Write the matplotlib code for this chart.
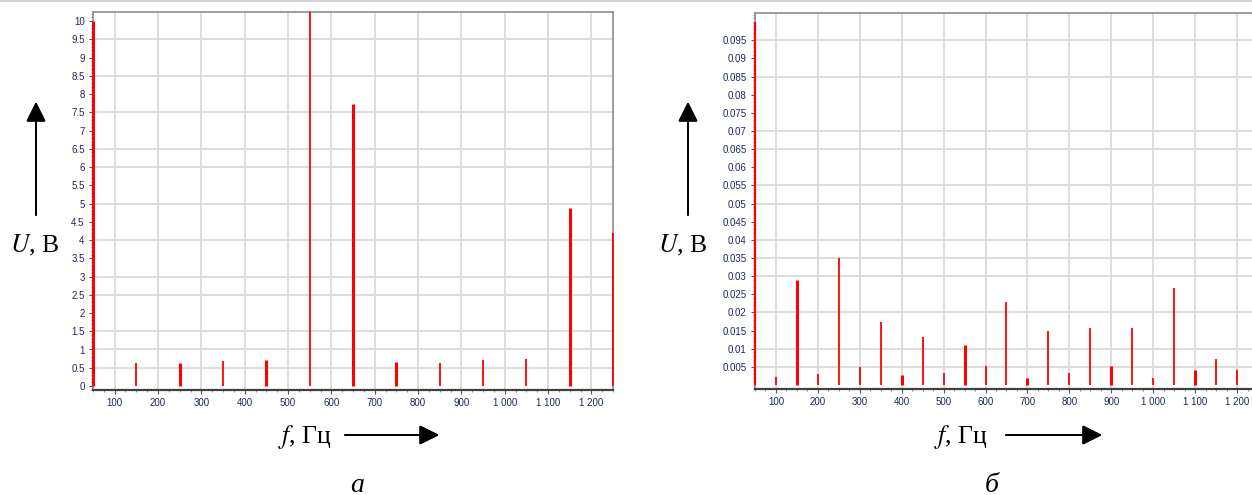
import matplotlib
matplotlib.use('Agg')
import matplotlib.pyplot as plt
import numpy as np
from matplotlib.lines import Line2D
from matplotlib.ticker import FuncFormatter, MultipleLocator, FixedLocator

plt.rcParams['mathtext.fontset'] = 'stix'

# spectrum a: amplitudes in volts
freq_a = [50, 150, 250, 350, 450, 550, 650, 750, 850, 950, 1050, 1150, 1250]
amp_a = [10.0, 0.64, 0.64, 0.68, 0.71, 10.25, 7.73, 0.65, 0.62, 0.71, 0.74, 4.89, 4.18]

# spectrum b
freq_b = [50, 100, 150, 200, 250, 300, 350, 400, 450, 500, 550, 600,
          650, 700, 750, 800, 850, 900, 950, 1000, 1050, 1100, 1150, 1200]
amp_b = [0.1, 0.0023, 0.0289, 0.0031, 0.0351, 0.0049, 0.0174, 0.0028,
         0.0133, 0.0034, 0.0111, 0.0052, 0.0229, 0.0020, 0.0150, 0.0034,
         0.0156, 0.0051, 0.0156, 0.0020, 0.0267, 0.0041, 0.0072, 0.0041]

x_ticks = [100, 200, 300, 400, 500, 600, 700, 800, 900, 1000, 1100, 1200]
y_ticks_a = np.arange(0, 10.01, 0.5)
y_ticks_b = np.arange(0.005, 0.0951, 0.005)

# the analyser draws its grid only on some of the levels
grid_a = [0.5, 1, 1.5, 2.5, 3, 4, 5, 6, 6.5, 7.5, 8.5, 9.5]
grid_b = [0.005, 0.01, 0.02, 0.03, 0.035, 0.04, 0.05, 0.055, 0.065, 0.07, 0.085, 0.095]

THICK, THIN = 2.2, 1.3
width_a = [2.2, THIN, THICK, THIN, THICK, THIN, THICK, THICK, THIN, THIN, THIN, THICK, THIN]
width_b = [1.6, THIN, THICK, THIN, THIN, THIN, THIN, THICK, THIN, THIN, THICK, THIN,
           THIN, THICK, THIN, THIN, THIN, THICK, THIN, THIN, THIN, THICK, THIN, THIN]

W, H = 1252, 495
fig = plt.figure(figsize=(W / 100, H / 100), dpi=100)

tick_color = '#1c2a5a'
grid_color = '#dadada'


def fmt_x(v, pos):
    return f'{int(round(v)):,}'.replace(',', ' ')


def setup(ax, ylim, yticks, minor_y, grid_levels, ylabel_fmt):
    ax.set_xlim(50, 1250)
    ax.set_ylim(*ylim)
    for g in grid_levels:
        ax.axhline(g, color=grid_color, lw=1.3, zorder=0)
    for g in x_ticks:
        ax.axvline(g, color=grid_color, lw=1.3, zorder=0)
    ax.xaxis.set_major_locator(FixedLocator(x_ticks))
    ax.xaxis.set_minor_locator(MultipleLocator(25))
    ax.xaxis.set_major_formatter(FuncFormatter(fmt_x))
    ax.yaxis.set_major_locator(FixedLocator(yticks))
    ax.yaxis.set_minor_locator(MultipleLocator(minor_y))
    ax.yaxis.set_major_formatter(FuncFormatter(ylabel_fmt))
    ax.tick_params(which='major', length=3, width=0.8, color='#555555',
                   labelsize=7, labelcolor=tick_color, pad=3)
    ax.tick_params(which='minor', length=1.5, width=0.6, color='#777777')
    for lab in ax.get_xticklabels() + ax.get_yticklabels():
        lab.set_family('Liberation Sans')
    for s in ('top', 'right', 'left'):
        ax.spines[s].set_color('#8c8c8c')
        ax.spines[s].set_linewidth(1.2)
    ax.spines['bottom'].set_color('#404040')
    ax.spines['bottom'].set_linewidth(1.6)


# panel a
ax1 = fig.add_axes([93 / W, (H - 390) / H, 520 / W, 378 / H])
setup(ax1, (-0.11, 10.25), y_ticks_a, 0.1, grid_a, lambda v, p: f'{v:g}')
ax1.vlines(freq_a, 0, amp_a, colors='#ff0000', linewidths=width_a,
           zorder=5, clip_on=False)

# panel b (runs past the right edge of the sheet)
ax2 = fig.add_axes([755 / W, (H - 389) / H, 503 / W, 376 / H])
setup(ax2, (-0.0011, 0.1025), y_ticks_b, 0.001, grid_b,
      lambda v, p: f'{round(v, 3):g}')
ax2.vlines(freq_b, 0, amp_b, colors='#ff0000', linewidths=width_b,
           zorder=5, clip_on=False)

# axis captions with arrows
arrow = dict(arrowstyle='-|>,head_length=1.2,head_width=0.6', lw=1.3,
             color='black', shrinkA=0, shrinkB=0)
label_kw = dict(family='Liberation Serif', fontsize=18.5, ha='center', va='center')

for x_arrow, x_text in [(36, 35), (688, 683)]:
    fig.add_artist(plt.annotate('', xy=(x_arrow, H - 102), xytext=(x_arrow, H - 215),
                                xycoords='figure pixels', textcoords='figure pixels',
                                arrowprops=arrow))
    fig.text(x_text / W, 1 - 245 / H, '$U$, В', **label_kw)

for x_text, x0, x1 in [(305, 345, 439), (961, 1006, 1102)]:
    fig.text(x_text / W, 1 - 437 / H, '$f$, Гц', **label_kw)
    fig.add_artist(plt.annotate('', xy=(x1, H - 435), xytext=(x0, H - 435),
                                xycoords='figure pixels', textcoords='figure pixels',
                                arrowprops=arrow))

fig.text(357 / W, 1 - 485 / H, 'а', family='Liberation Serif', style='italic',
         fontsize=20, ha='center', va='center')
fig.text(992 / W, 1 - 485 / H, 'б', family='Liberation Serif', style='italic',
         fontsize=20, ha='center', va='center')

fig.add_artist(Line2D([0, 1], [0.998, 0.998], color='#d4d4d4', lw=1.5))

fig.savefig('out.png', dpi=100)
